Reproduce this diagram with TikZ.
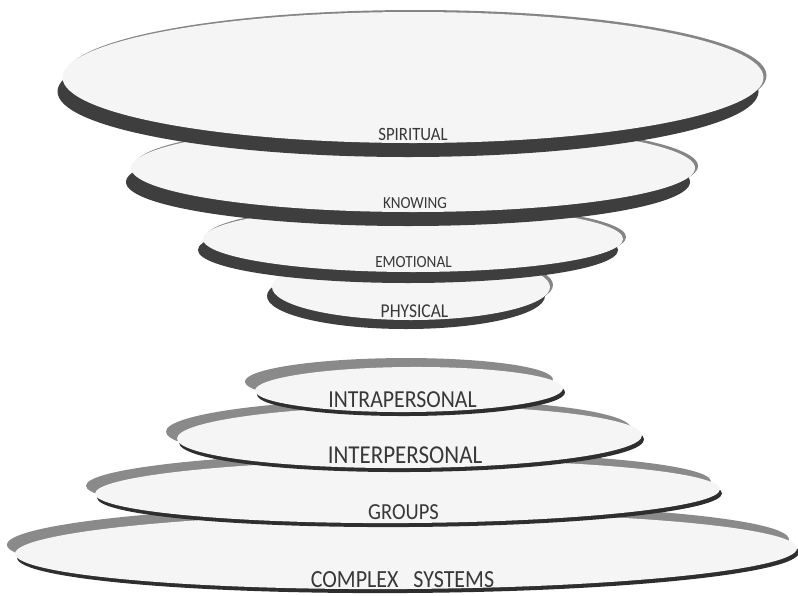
\documentclass[tikz,border=0pt]{standalone}
\usepackage{fontspec}
\setmainfont{Carlito}
\definecolor{diskfill}{HTML}{F5F5F5}
\definecolor{toprim}{HTML}{858585}
\definecolor{topshadow}{HTML}{3E3E3E}
\definecolor{botshadow}{HTML}{8A8A8A}
\definecolor{botrim}{HTML}{2E2E2E}
\definecolor{txt}{HTML}{383838}
% cx, cy, rx, ry, shadow dx, shadow dy
\newcommand{\topdisk}[6]{%
  \fill[toprim] (#1+3,#2-2) ellipse [x radius=#3, y radius=#4];
  \fill[topshadow] (#1+#5,#2+#6) ellipse [x radius=#3, y radius=#4];
  \fill[diskfill] (#1,#2) ellipse [x radius=#3, y radius=#4];
}
% cx, cy, rx, ry, shadow dx, shadow dy
\newcommand{\botdisk}[6]{%
  \begin{scope}[rotate around={0.4:(#1,#2)}]
  \fill[botshadow] (#1+#5,#2+#6) ellipse [x radius=#3, y radius=#4];
  \fill[botrim] (#1+2,#2+4) ellipse [x radius=#3, y radius=#4];
  \fill[diskfill] (#1,#2) ellipse [x radius=#3, y radius=#4];
  \end{scope}
}
\newcommand{\tall}[1]{\scalebox{1}[1.12]{#1}}
\tikzset{lbl/.style={font=\fontsize{#1}{#1}\selectfont, text=txt, inner sep=0pt, anchor=base}}
\begin{document}
\begin{tikzpicture}[x=1pt,y=-1pt]
\useasboundingbox (0,0) rectangle (798,595);
\fill[white] (0,0) rectangle (798,595);
% upper funnel: drawn from the bottom disk up
\topdisk{411}{287}{139}{33}{-5}{9}
\topdisk{413}{239}{210}{33}{-5}{11}
\topdisk{413}{168}{282}{44}{-5}{14}
\topdisk{413}{77.5}{350.5}{65.5}{-5}{14}
% lower pyramid: drawn from the bottom disk up
\botdisk{406}{551}{391}{38}{-8}{-9}
\botdisk{407.5}{491.5}{312.5}{31.5}{-9}{-8}
\botdisk{409.5}{437}{232.5}{31}{-11}{-7}
\botdisk{409}{389.5}{154}{22.5}{-10}{-9}
% labels
\node[lbl=16.8] (spiritual) at (413,140) {\tall{SPIRITUAL}};
\node[lbl=15.1] (knowing) at (415,208) {\tall{KNOWING}};
\node[lbl=15.2] (emotional) at (413.5,267) {\tall{EMOTIONAL}};
\node[lbl=17.5] (physical) at (414.5,317) {\tall{PHYSICAL}};
\node[lbl=21.8] (intra) at (402.5,407) {\tall{INTRAPERSONAL}};
\node[lbl=23] (inter) at (405,463) {\tall{INTERPERSONAL}};
\node[lbl=20.5] (groups) at (403.5,519) {\tall{GROUPS}};
\node[lbl=22] (complex) at (402.5,587) {\tall{COMPLEX\hspace{0.45em} SYSTEMS}};
\end{tikzpicture}
\end{document}
